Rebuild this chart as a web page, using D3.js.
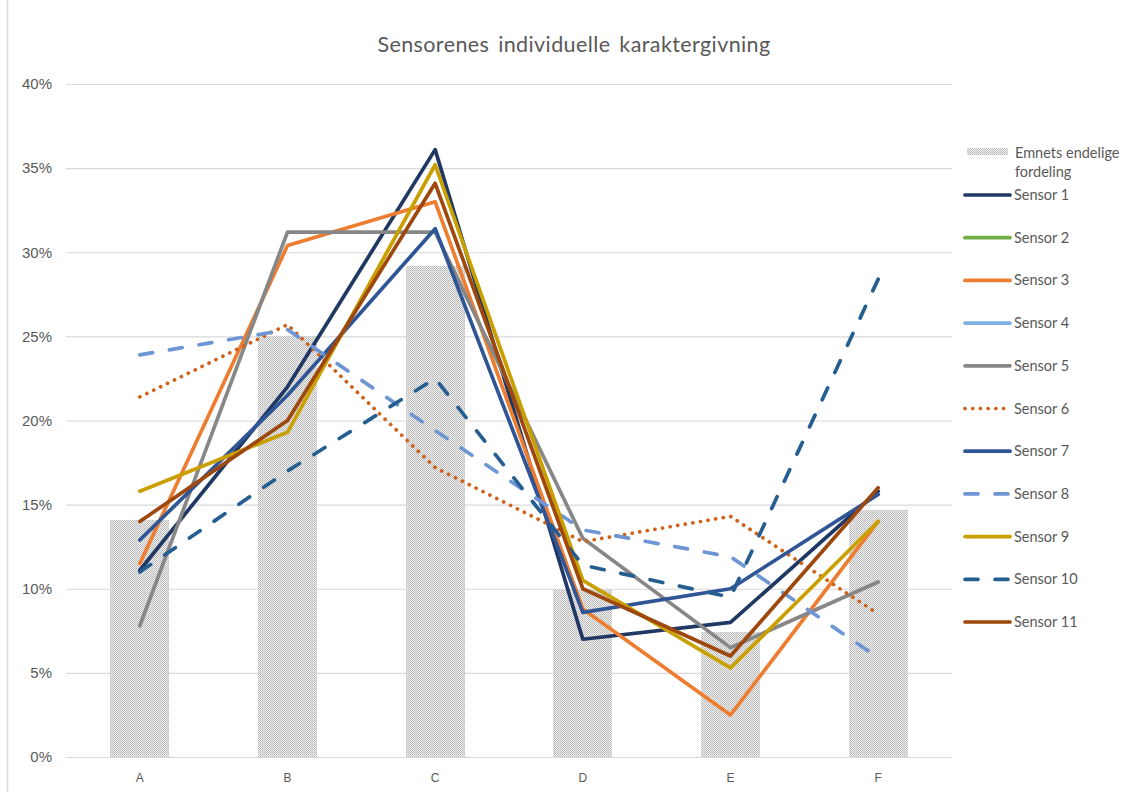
<!DOCTYPE html>
<html>
<head>
<meta charset="utf-8">
<script src="https://cdn.jsdelivr.net/npm/d3@7"></script>
<style>
  body { margin: 0; background: #fff; }
  svg { display: block; }
  .title { font-family: Lato, "Open Sans", sans-serif; font-size: 21.5px; fill: #595959; letter-spacing: 0.4px; word-spacing: 3px; }
  .y.axis text { font-family: "Liberation Sans", Arial, sans-serif; font-size: 15px; fill: #595959; }
  .x.axis text { font-family: "Liberation Sans", Arial, sans-serif; font-size: 12px; fill: #595959; }
  .legend text { font-family: Lato, "Open Sans", sans-serif; font-size: 14.5px; fill: #595959; }
</style>
</head>
<body>
<div id="chart"></div>
<script>
const categories = ['A', 'B', 'C', 'D', 'E', 'F'];
const yTicks = [0, 0.05, 0.1, 0.15, 0.2, 0.25, 0.3, 0.35, 0.4];

// final grade distribution (bars)
const endelig = [0.141, 0.250, 0.292, 0.100, 0.074, 0.147];

// sensor 2 and 4 have no visible line in the original
const sensor1 = [0.111, 0.220, 0.361, 0.070, 0.080, 0.158];
const sensor2 = [];
const sensor3 = [0.115, 0.304, 0.330, 0.088, 0.025, 0.140];
const sensor4 = [];
const sensor5 = [0.078, 0.312, 0.312, 0.130, 0.065, 0.104];
const sensor6 = [0.214, 0.257, 0.172, 0.128, 0.143, 0.085];
const sensor7 = [0.129, 0.215, 0.314, 0.086, 0.100, 0.156];
const sensor8 = [0.239, 0.254, 0.194, 0.135, 0.119, 0.059];
const sensor9 = [0.158, 0.193, 0.352, 0.105, 0.053, 0.140];
const sensor10 = [0.110, 0.170, 0.225, 0.114, 0.095, 0.284];
const sensor11 = [0.140, 0.200, 0.341, 0.100, 0.060, 0.160];

const sensorNames = ['Sensor 1', 'Sensor 2', 'Sensor 3', 'Sensor 4', 'Sensor 5', 'Sensor 6',
  'Sensor 7', 'Sensor 8', 'Sensor 9', 'Sensor 10', 'Sensor 11'];
const sensorValues = [sensor1, sensor2, sensor3, sensor4, sensor5, sensor6,
  sensor7, sensor8, sensor9, sensor10, sensor11];

const colors = ['#203864', '#70AD47', '#ED7D31', '#7FB2E0', '#878787', '#D0611A',
  '#2F5597', '#6E96D4', '#C9A000', '#255E91', '#9E480E'];
const dashes = [null, null, null, null, null, 'dot', null, 'dash', null, 'dash', null];

const width = 1131;
const height = 792;
const plot = { left: 66, right: 952, top: 84, bottom: 757 };

const svg = d3.select('#chart').append('svg')
  .attr('width', width)
  .attr('height', height);

// bar texture
const defs = svg.append('defs');
const pat = defs.append('pattern')
  .attr('id', 'dots')
  .attr('patternUnits', 'userSpaceOnUse')
  .attr('width', 2)
  .attr('height', 2);
pat.append('rect').attr('width', 2).attr('height', 2).attr('fill', '#f0f0f0');
pat.append('rect').attr('width', 1).attr('height', 1).attr('fill', '#b4b4b4');
pat.append('rect').attr('x', 1).attr('y', 1).attr('width', 1).attr('height', 1).attr('fill', '#c4c4c4');

// chart border at left
svg.append('line')
  .attr('x1', 7.5).attr('x2', 7.5)
  .attr('y1', 0).attr('y2', height)
  .attr('stroke', '#d9d9d9')
  .attr('stroke-width', 1.5);

svg.append('text')
  .attr('class', 'title')
  .attr('x', 574)
  .attr('y', 52)
  .attr('text-anchor', 'middle')
  .text('Sensorenes individuelle karaktergivning');

const x = d3.scaleBand()
  .domain(categories)
  .range([plot.left, plot.right])
  .paddingInner(0.6)
  .paddingOuter(0.3);

const y = d3.scaleLinear()
  .domain([0, 0.4])
  .range([plot.bottom, plot.top]);

// gridlines + y labels
const yAxis = d3.axisLeft(y)
  .tickValues(yTicks)
  .tickFormat(d3.format('.0%'))
  .tickSize(-(plot.right - plot.left))
  .tickPadding(14);

const gy = svg.append('g')
  .attr('class', 'y axis')
  .attr('transform', `translate(${plot.left}, 0)`)
  .call(yAxis);
gy.select('.domain').remove();
gy.selectAll('.tick line').attr('stroke', '#d9d9d9').attr('stroke-width', 1.2);

// bars
svg.append('g')
  .selectAll('rect')
  .data(endelig)
  .enter().append('rect')
    .attr('x', (d, i) => Math.round(x(categories[i])))
    .attr('y', d => Math.round(y(d)))
    .attr('width', Math.round(x.bandwidth()))
    .attr('height', d => y(0) - Math.round(y(d)))
    .attr('fill', 'url(#dots)');

const xAxis = d3.axisBottom(x).tickSize(0).tickPadding(16);
const gx = svg.append('g')
  .attr('class', 'x axis')
  .attr('transform', `translate(0, ${plot.bottom})`)
  .call(xAxis);
gx.select('.domain').remove();

const cx = c => x(c) + x.bandwidth() / 2;

const line = d3.line()
  .x((d, i) => cx(categories[i]))
  .y(d => y(d));

function styleLine(sel, i) {
  sel.attr('fill', 'none')
    .attr('stroke', colors[i])
    .attr('stroke-width', 3.7)
    .attr('stroke-linejoin', 'round')
    .attr('stroke-linecap', 'round');
  if (dashes[i] === 'dot') {
    sel.attr('stroke-dasharray', '0.1,7.6');
  } else if (dashes[i] === 'dash') {
    sel.attr('stroke-dasharray', '13,17');
  }
}

const lines = svg.append('g');
sensorValues.forEach((vals, i) => {
  if (!vals.length) return;
  lines.append('path')
    .datum(vals)
    .attr('d', line)
    .call(styleLine, i);
});

// legend
const legend = svg.append('g').attr('class', 'legend');
legend.append('rect')
  .attr('x', 967)
  .attr('y', 148)
  .attr('width', 41)
  .attr('height', 7)
  .attr('fill', 'url(#dots)');
legend.append('text').attr('x', 1015).attr('y', 158).text('Emnets endelige');
legend.append('text').attr('x', 1015).attr('y', 177).text('fordeling');

sensorNames.forEach((name, i) => {
  const ly = 195 + i * 42.7;
  legend.append('line')
    .attr('x1', 965).attr('x2', 1010)
    .attr('y1', ly).attr('y2', ly)
    .call(styleLine, i);
  legend.append('text')
    .attr('x', 1014)
    .attr('y', ly + 5)
    .text(name);
});
</script>
</body>
</html>
